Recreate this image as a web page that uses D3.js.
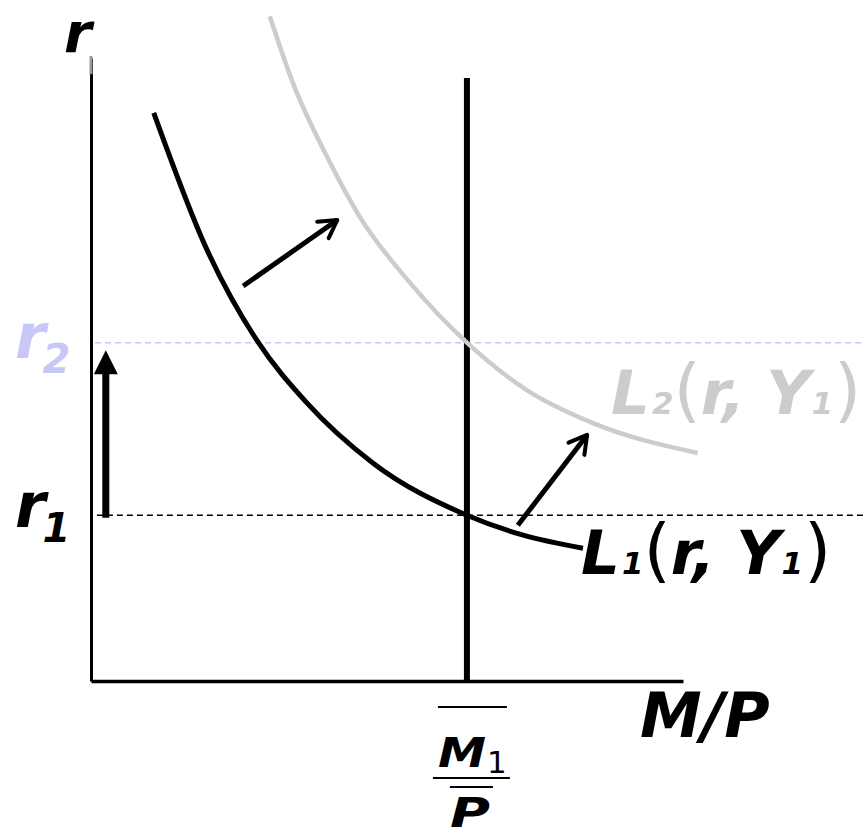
<!DOCTYPE html>
<html>
<head>
<meta charset="utf-8">
<script src="https://cdn.jsdelivr.net/npm/d3@7"></script>
<style>
  body { margin: 0; background: #fff; }
  svg text { font-family: "DejaVu Sans", Verdana, sans-serif; }
</style>
</head>
<body>
<div id="chart"></div>
<script>
// DATA (abstract units: M/P on x, r on y)
const L1_x = [10.6, 19.6, 28.0, 36.5, 47.6, 63.5, 73.0, 83.1]
const L1_r = [91.2, 69.2, 54.7, 44.6, 35.0, 26.6, 23.4, 21.3]
const L2_x = [30.2, 34.1, 39.9, 45.4, 53.9, 63.5, 73.6, 84.8, 102.5]
const L2_r = [106.7, 96.0, 84.1, 74.5, 63.9, 54.3, 46.7, 41.4, 36.6]
const moneySupply = 63.5   // M1/P
const msTop = 96.8
const r1 = 26.6
const r2 = 54.3
// shift arrows [x0, y0, x1, y1]
const shiftArrows = [[25.7, 63.4, 41.6, 74.0], [72.1, 25.0, 83.8, 39.5]]
const upArrow = [2.5, 26.2, 2.5, 53.1]

const width = 864, height = 838

// SCALES
const x = d3.scaleLinear().domain([0, 100]).range([91, 683])
const y = d3.scaleLinear().domain([0, 100]).range([681, 58])

const svg = d3.select("#chart")
    .append("svg")
    .attr("width", width)
    .attr("height", height)

// marker for the open arrowheads
svg.append("defs").append("marker")
    .attr("id", "open")
    .attr("viewBox", "0 0 10 10")
    .attr("refX", 8).attr("refY", 5)
    .attr("markerWidth", 5).attr("markerHeight", 5)
    .attr("markerUnits", "strokeWidth")
    .attr("orient", "auto")
    .append("path")
    .attr("d", "M1,1 L8,5 L1,9")
    .attr("fill", "none")
    .attr("stroke", "black")
    .attr("stroke-width", 1.6)
    .attr("stroke-linecap", "round")
    .attr("stroke-linejoin", "round")

// DASHED r LINES
svg.append("line")
    .attr("x1", x(0.7)).attr("x2", width)
    .attr("y1", y(r2)).attr("y2", y(r2))
    .attr("stroke", "#c8c8f8").attr("stroke-width", 1.5)
    .attr("stroke-dasharray", "6,4")
svg.append("line")
    .attr("x1", x(1)).attr("x2", width)
    .attr("y1", y(r1)).attr("y2", y(r1))
    .attr("stroke", "black").attr("stroke-width", 1.5)
    .attr("stroke-dasharray", "6,4")

// AXES
svg.append("g")
    .attr("transform", `translate(0, ${y(0)})`)
    .call(d3.axisBottom(x).tickValues([]).tickSizeOuter(0))
    .call(g => g.select(".domain").attr("stroke-width", 3.5))
svg.append("g")
    .attr("transform", `translate(${x(0)}, 0)`)
    .call(d3.axisLeft(y).tickValues([]).tickSizeOuter(0))
    .call(g => g.select(".domain").attr("stroke-width", 3))
svg.append("line")
    .attr("x1", x(0)).attr("x2", x(0))
    .attr("y1", y(100) - 2).attr("y2", y(97.4))
    .attr("stroke", "#999").attr("stroke-width", 3)

// MONEY SUPPLY
svg.append("line")
    .attr("x1", x(moneySupply)).attr("x2", x(moneySupply))
    .attr("y1", y(msTop)).attr("y2", y(0))
    .attr("stroke", "black").attr("stroke-width", 6)

// DEMAND CURVES
const line = d3.line()
    .x(d => x(d[0]))
    .y(d => y(d[1]))
    .curve(d3.curveMonotoneX)

svg.append("path")
    .datum(L2_x.map((v, i) => [v, L2_r[i]]))
    .attr("d", line)
    .attr("fill", "none")
    .attr("stroke", "#cccccc")
    .attr("stroke-width", 4.5)

svg.append("path")
    .datum(L1_x.map((v, i) => [v, L1_r[i]]))
    .attr("d", line)
    .attr("fill", "none")
    .attr("stroke", "black")
    .attr("stroke-width", 5)

// SHIFT ARROWS
svg.selectAll(".shift")
    .data(shiftArrows)
    .join("line")
    .attr("class", "shift")
    .attr("x1", d => x(d[0])).attr("y1", d => y(d[1]))
    .attr("x2", d => x(d[2])).attr("y2", d => y(d[3]))
    .attr("stroke", "black")
    .attr("stroke-width", 5)
    .attr("marker-end", "url(#open)")

// UP ARROW (r1 -> r2)
const headH = 24, headW = 12
svg.append("line")
    .attr("x1", x(upArrow[0])).attr("x2", x(upArrow[2]))
    .attr("y1", y(upArrow[1])).attr("y2", y(upArrow[3]) + headH - 2)
    .attr("stroke", "black").attr("stroke-width", 7)
svg.append("path")
    .attr("d", `M${x(upArrow[2])},${y(upArrow[3])} L${x(upArrow[2]) + headW},${y(upArrow[3]) + headH} L${x(upArrow[2]) - headW},${y(upArrow[3]) + headH} Z`)
    .attr("fill", "black")

// LABELS
function label(px, py, parts, color) {
    const t = svg.append("text")
        .attr("x", px).attr("y", py)
        .attr("fill", color)
    parts.forEach(p => {
        t.append("tspan")
            .attr("font-size", p[1])
            .attr("font-weight", p[2] || "bold")
            .attr("font-style", p[3] || "italic")
            .attr("dy", p[4] || 0)
            .attr("dx", p[5] || 0)
            .text(p[0])
    })
    return t
}

label(64, 52, [["r", 56]], "black")
label(15, y(r2) + 15, [["r", 62], ["2", 40, "bold", "italic", 15, -3]], "#c8c8f8")
label(15, y(r1) + 12, [["r", 62], ["1", 40, "bold", "italic", 15, -3]], "black")

const parts = sub => [["L", 61], [sub, 31, "bold", "italic", 0, 2], ["(", 70, "normal", "normal", 0, 0],
    ["r, Y", 61], ["1", 31, "bold", "italic", 0, 1], [")", 70, "normal", "normal", 0, 1]]
label(611, 414, parts("2"), "#cccccc")
label(581, 574, parts("1"), "black")

label(640, 737, [["M/P", 62]], "black")

// M1 / P fraction under the money supply line
const cx = x(moneySupply)
svg.append("line").attr("x1", cx - 29).attr("x2", cx + 40).attr("y1", 707).attr("y2", 707)
    .attr("stroke", "black").attr("stroke-width", 2)
label(cx - 29, 767, [["M", 40]], "black")
    .select("tspan").attr("textLength", 48).attr("lengthAdjust", "spacingAndGlyphs")
label(cx + 20, 773, [["1", 31, "normal", "normal"]], "black")
svg.append("line").attr("x1", cx - 34).attr("x2", cx + 43).attr("y1", 778).attr("y2", 778)
    .attr("stroke", "black").attr("stroke-width", 2)
svg.append("line").attr("x1", cx - 17).attr("x2", cx + 26).attr("y1", 787).attr("y2", 787)
    .attr("stroke", "black").attr("stroke-width", 2)
label(cx - 17, 827, [["P", 40]], "black")
    .select("tspan").attr("textLength", 40).attr("lengthAdjust", "spacingAndGlyphs")
</script>
</body>
</html>
